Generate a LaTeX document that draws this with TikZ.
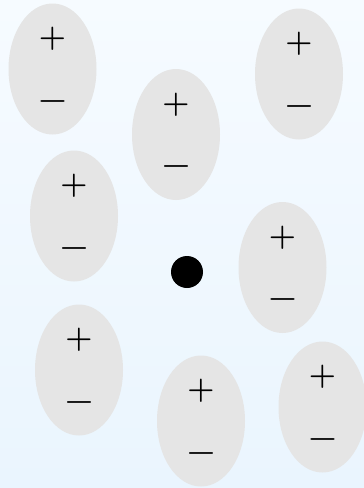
\documentclass[tikz,border=0pt]{standalone}
\usepackage{fontspec}
\usetikzlibrary{shapes.geometric}
\definecolor{bgtop}{RGB}{246,251,255}
\definecolor{bgbot}{RGB}{234,245,254}
\definecolor{dipole}{RGB}{229,229,229}
\tikzset{
  dipolebox/.style={shape=ellipse, fill=dipole, minimum width=88pt, minimum height=131pt, inner sep=0pt},
  iondot/.style={shape=circle, fill=black, minimum size=32pt, inner sep=0pt},
  plussign/.style={inner sep=0pt, font=\fontsize{31pt}{31pt}\selectfont\bfseries},
  minussign/.style={inner sep=0pt, yshift=-4pt, font=\fontsize{32pt}{32pt}\selectfont\bfseries}
}
\begin{document}
\begin{tikzpicture}[x=1pt,y=-1pt]
\shade[top color=bgtop, bottom color=bgbot] (0,0) rectangle (364,488);
\useasboundingbox (0,0) rectangle (364,488);
\node[dipolebox] (e1) at (52.5,69) {};
\node[dipolebox] (e2) at (176,134.5) {};
\node[dipolebox] (e3) at (299,74) {};
\node[dipolebox] (e4) at (74,216) {};
\node[dipolebox] (e5) at (282.5,267.5) {};
\node[dipolebox] (e6) at (79,370) {};
\node[dipolebox] (e7) at (201,421) {};
\node[dipolebox] (e8) at (322.5,407) {};
\node[plussign] (p1) at (52.5,39) {+};
\node[minussign] (m1) at (52.5,101) {−};
\node[plussign] (p2) at (176,104.5) {+};
\node[minussign] (m2) at (176,166.5) {−};
\node[plussign] (p3) at (299,44) {+};
\node[minussign] (m3) at (299,106) {−};
\node[plussign] (p4) at (74,186) {+};
\node[minussign] (m4) at (74,248) {−};
\node[plussign] (p5) at (282.5,237.5) {+};
\node[minussign] (m5) at (282.5,299.5) {−};
\node[plussign] (p6) at (79,340) {+};
\node[minussign] (m6) at (79,402) {−};
\node[plussign] (p7) at (201,391) {+};
\node[minussign] (m7) at (201,453) {−};
\node[plussign] (p8) at (322.5,377) {+};
\node[minussign] (m8) at (322.5,439) {−};
\node[iondot] (ion) at (187,272) {};
\end{tikzpicture}
\end{document}
